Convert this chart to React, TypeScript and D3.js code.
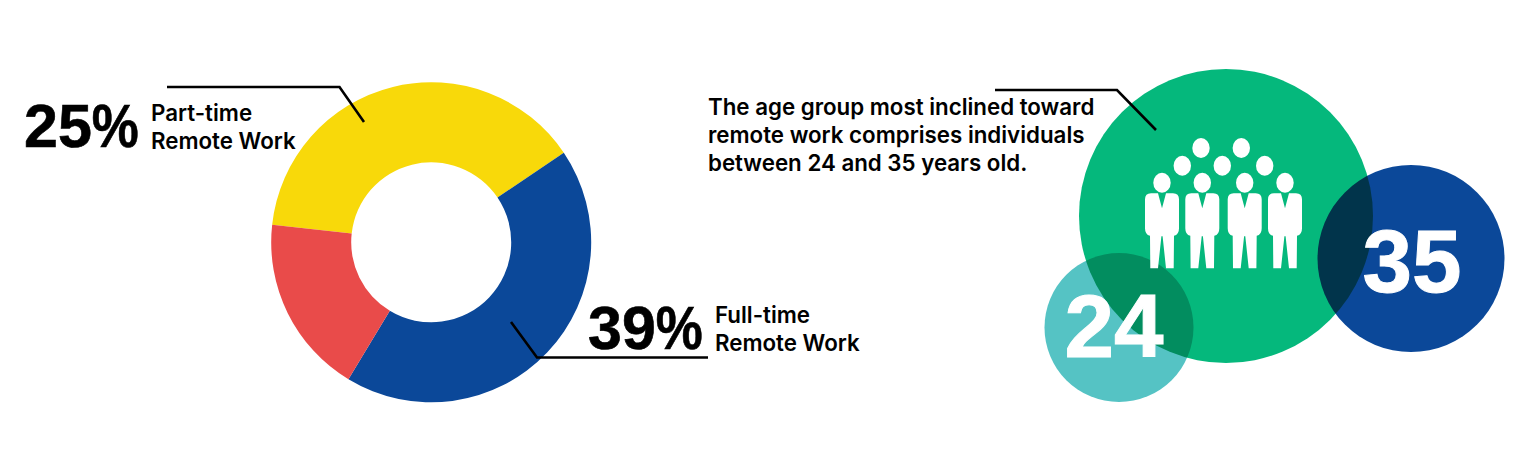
import * as d3 from 'd3';

// Shares read off the ring itself (the printed percentages do not match the slice sizes)
const SLICE_NAMES = ['Part-time', 'Full-time', 'Other'];
const SLICE_VALUES = [38.8, 43.1, 18.1];
const SLICE_COLORS = ['#F8D90A', '#0B4899', '#E94B4A'];

const AGE_VALUES = [24, 35];
const DESCRIPTION = [
    'The age group most inclined toward',
    'remote work comprises individuals',
    'between 24 and 35 years old.',
];

const WIDTH = 1536;
const HEIGHT = 452;
const LABEL_FONT = 'Inter, "Liberation Sans", Arial, sans-serif';
const NUMBER_FONT = '"Liberation Sans", Arial, sans-serif';

const START = (276.3 * Math.PI) / 180;
const pie = d3.pie<number>()
    .sort(null)
    .startAngle(START)
    .endAngle(START + 2 * Math.PI);

const arc = d3.arc<d3.PieArcDatum<number>>().innerRadius(80).outerRadius(160);
const leader = d3.line();

// One suited figure, drawn around its own centre line with y=0 at the shoulders
const BODY = 'M-4,0 L0,15 L4,0 L11,0 Q17,0 17,6 L17,35 Q17,41.5 12,42.5 L11.7,75 L4,75 L0.6,43 L-0.6,43 L-4,75 L-11.7,75 L-12,42.5 Q-17,41.5 -17,35 L-17,6 Q-17,0 -11,0 Z';
const FRONT_ROW = [1162, 1202.3, 1244.7, 1285];
const MIDDLE_ROW = [1182.3, 1222.3, 1264.7];
const BACK_ROW = [1201, 1241.3];

function Callout({ x, y, percent, lines }: { x: number; y: number; percent: number; lines: string[] }) {
    return (
        <g fill="#000">
            <text x={x} y={y} fontFamily={NUMBER_FONT} fontWeight={700} fontSize={61} stroke="#000" strokeWidth={0.6}>
                {percent}
                <tspan textLength={47} lengthAdjust="spacingAndGlyphs">%</tspan>
            </text>
            <g fontFamily={LABEL_FONT} fontWeight={600} fontSize={22.3}>
                <text x={x + 127} y={y - 26}>{lines[0]}</text>
                <text x={x + 127} y={y + 2}>{lines[1]}</text>
            </g>
        </g>
    );
}

export default function App() {
    const slices = pie(SLICE_VALUES);

    return (
        <svg width={WIDTH} height={HEIGHT} viewBox={`0 0 ${WIDTH} ${HEIGHT}`} style={{ position: 'absolute', left: 0, top: 0, background: '#fff' }}>
            <g transform="translate(431.2,242.3)">
                {slices.map((s, i) => (
                    <path key={SLICE_NAMES[i]} d={arc(s) ?? ''} fill={SLICE_COLORS[i]} />
                ))}
            </g>

            <path d={leader([[167, 87], [339.5, 87], [364, 122]]) ?? ''} fill="none" stroke="#000" strokeWidth={2.6} />
            <path d={leader([[511, 322], [537, 357.5], [708, 357.5]]) ?? ''} fill="none" stroke="#000" strokeWidth={2.6} />
            <Callout x={24} y={147} percent={25} lines={['Part-time', 'Remote Work']} />
            <Callout x={588} y={349} percent={39} lines={['Full-time', 'Remote Work']} />

            {/* Age bubbles, overlaps come from multiply */}
            <g style={{ isolation: 'isolate' }}>
                <circle cx={1226} cy={216} r={147} fill="#05B87C" />
                <circle cx={1411} cy={258.5} r={93.5} fill="#0B4899" style={{ mixBlendMode: 'multiply' }} />
                <circle cx={1119} cy={327.5} r={74.5} fill="#55C3C4" style={{ mixBlendMode: 'multiply' }} />
            </g>

            <path d={leader([[995, 90], [1117, 90], [1156, 130]]) ?? ''} fill="none" stroke="#000" strokeWidth={2.6} />
            <g fontFamily={LABEL_FONT} fontWeight={600} fontSize={22.3} fill="#000">
                {DESCRIPTION.map((line, i) => (
                    <text key={line} x={708} y={115 + i * 28}>{line}</text>
                ))}
            </g>

            <g fill="#fff">
                {FRONT_ROW.map(x => (
                    <g key={x} transform={`translate(${x},193.3)`}>
                        <ellipse cx={0} cy={-10.5} rx={8.7} ry={10} />
                        <path d={BODY} />
                    </g>
                ))}
                {MIDDLE_ROW.map(x => <ellipse key={x} cx={x} cy={165.7} rx={8.7} ry={10} />)}
                {BACK_ROW.map(x => <ellipse key={x} cx={x} cy={148} rx={8.7} ry={10} />)}
            </g>

            <g fontFamily={NUMBER_FONT} fontWeight={700} fontSize={89} fill="#fff" stroke="#fff" strokeWidth={1} textAnchor="middle">
                <text x={1114} y={356.5}>{AGE_VALUES[0]}</text>
                <text x={1412} y={292}>{AGE_VALUES[1]}</text>
            </g>
        </svg>
    );
}
